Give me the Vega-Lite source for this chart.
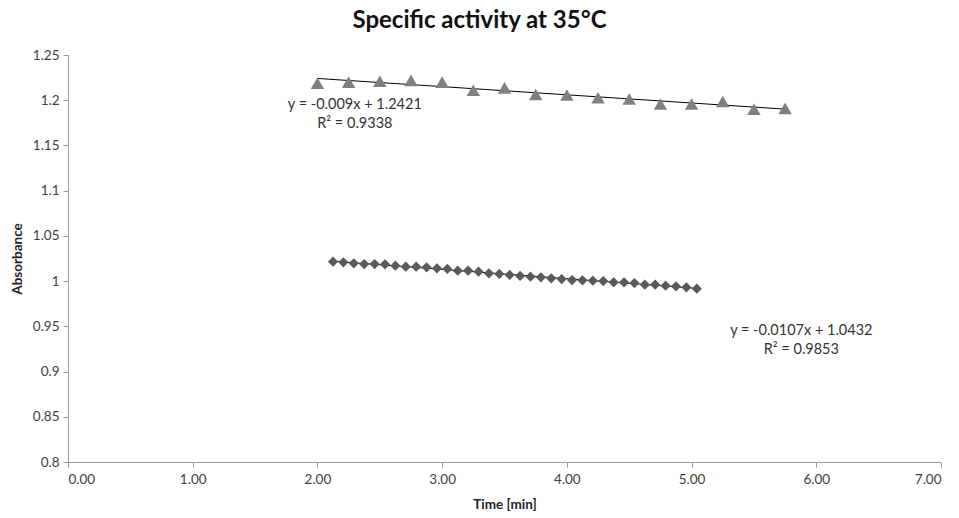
{
  "$schema": "https://vega.github.io/schema/vega-lite/v6.json",
  "autosize": "none",
  "width": 873,
  "height": 407,
  "padding": {"left": 68, "top": 55, "right": 18, "bottom": 56},
  "background": "white",
  "config": {
    "view": {"stroke": null},
    "font": "Lato",
    "axis": {"labelFont": "Lato", "titleFont": "Lato", "labelColor": "#404040", "titleColor": "#222222", "domainColor": "#9a9a9a", "tickColor": "#9a9a9a", "grid": false, "labelFontSize": 13.5, "titleFontSize": 13.5, "titleFontWeight": "bold", "tickSize": 5}
  },
  "title": {"text": "Specific activity at 35°C", "font": "Lato", "fontSize": 24, "fontWeight": "bold", "color": "#111111", "anchor": "middle", "dx": -25, "offset": 15},
  "datasets": {
    "points": [
      {"series": "tri", "time": 2.0, "absorbance": 1.2187},
      {"series": "tri", "time": 2.25, "absorbance": 1.2200},
      {"series": "tri", "time": 2.5, "absorbance": 1.2210},
      {"series": "tri", "time": 2.75, "absorbance": 1.2220},
      {"series": "tri", "time": 3.0, "absorbance": 1.2200},
      {"series": "tri", "time": 3.25, "absorbance": 1.2110},
      {"series": "tri", "time": 3.5, "absorbance": 1.2137},
      {"series": "tri", "time": 3.75, "absorbance": 1.2063},
      {"series": "tri", "time": 4.0, "absorbance": 1.2058},
      {"series": "tri", "time": 4.25, "absorbance": 1.2028},
      {"series": "tri", "time": 4.5, "absorbance": 1.2013},
      {"series": "tri", "time": 4.75, "absorbance": 1.1958},
      {"series": "tri", "time": 5.0, "absorbance": 1.1958},
      {"series": "tri", "time": 5.25, "absorbance": 1.1986},
      {"series": "tri", "time": 5.5, "absorbance": 1.1900},
      {"series": "tri", "time": 5.75, "absorbance": 1.1910},
      {"series": "dia", "time": 2.125, "absorbance": 1.0215},
      {"series": "dia", "time": 2.2083, "absorbance": 1.0208},
      {"series": "dia", "time": 2.2917, "absorbance": 1.0197},
      {"series": "dia", "time": 2.375, "absorbance": 1.0189},
      {"series": "dia", "time": 2.4583, "absorbance": 1.0189},
      {"series": "dia", "time": 2.5417, "absorbance": 1.0186},
      {"series": "dia", "time": 2.625, "absorbance": 1.0171},
      {"series": "dia", "time": 2.7083, "absorbance": 1.0160},
      {"series": "dia", "time": 2.7917, "absorbance": 1.0160},
      {"series": "dia", "time": 2.875, "absorbance": 1.0153},
      {"series": "dia", "time": 2.9583, "absorbance": 1.0142},
      {"series": "dia", "time": 3.0417, "absorbance": 1.0134},
      {"series": "dia", "time": 3.125, "absorbance": 1.0115},
      {"series": "dia", "time": 3.2083, "absorbance": 1.0115},
      {"series": "dia", "time": 3.2917, "absorbance": 1.0104},
      {"series": "dia", "time": 3.375, "absorbance": 1.0086},
      {"series": "dia", "time": 3.4583, "absorbance": 1.0079},
      {"series": "dia", "time": 3.5417, "absorbance": 1.0068},
      {"series": "dia", "time": 3.625, "absorbance": 1.0057},
      {"series": "dia", "time": 3.7083, "absorbance": 1.0049},
      {"series": "dia", "time": 3.7917, "absorbance": 1.0042},
      {"series": "dia", "time": 3.875, "absorbance": 1.0031},
      {"series": "dia", "time": 3.9583, "absorbance": 1.0023},
      {"series": "dia", "time": 4.0417, "absorbance": 1.0012},
      {"series": "dia", "time": 4.125, "absorbance": 1.0009},
      {"series": "dia", "time": 4.2083, "absorbance": 1.0005},
      {"series": "dia", "time": 4.2917, "absorbance": 1.0001},
      {"series": "dia", "time": 4.375, "absorbance": 0.9987},
      {"series": "dia", "time": 4.4583, "absorbance": 0.9987},
      {"series": "dia", "time": 4.5417, "absorbance": 0.9979},
      {"series": "dia", "time": 4.625, "absorbance": 0.9960},
      {"series": "dia", "time": 4.7083, "absorbance": 0.9960},
      {"series": "dia", "time": 4.7917, "absorbance": 0.9949},
      {"series": "dia", "time": 4.875, "absorbance": 0.9943},
      {"series": "dia", "time": 4.9583, "absorbance": 0.9932},
      {"series": "dia", "time": 5.0417, "absorbance": 0.9916}
    ],
    "labels": [
      {"series": "tri", "time": 2.30, "absorbance": 1.1947, "label": ["y = -0.009x + 1.2421", "R² = 0.9338"]},
      {"series": "dia", "time": 5.88, "absorbance": 0.9448, "label": ["y = -0.0107x + 1.0432", "R² = 0.9853"]}
    ]
  },
  "layer": [
    {
      "data": {"name": "points"},
      "transform": [{"regression": "absorbance", "on": "time", "groupby": ["series"], "method": "linear"}],
      "mark": {"type": "line", "color": "#000000", "strokeWidth": 1, "clip": true},
      "encoding": {
        "x": {"field": "time", "type": "quantitative", "scale": {"domain": [0, 7], "nice": false, "zero": false},
              "axis": {"title": "Time [min]", "values": [0, 1, 2, 3, 4, 5, 6, 7], "format": ".2f", "labelPadding": 5, "titlePadding": 12}},
        "y": {"field": "absorbance", "type": "quantitative", "scale": {"domain": [0.8, 1.25], "nice": false, "zero": false},
              "axis": {"title": "Absorbance", "values": [0.8, 0.85, 0.9, 0.95, 1, 1.05, 1.1, 1.15, 1.2, 1.25], "format": ".2~f", "labelPadding": 4, "titlePadding": 8}},
        "detail": {"field": "series", "type": "nominal"}
      }
    },
    {
      "data": {"name": "points"},
      "mark": {"type": "point", "filled": true, "opacity": 1, "strokeWidth": 0},
      "encoding": {
        "x": {"field": "time", "type": "quantitative"},
        "y": {"field": "absorbance", "type": "quantitative"},
        "shape": {"field": "series", "type": "nominal", "scale": {"domain": ["tri", "dia"], "range": ["triangle-up", "diamond"]}, "legend": null},
        "color": {"field": "series", "type": "nominal", "scale": {"domain": ["tri", "dia"], "range": ["#808080", "#5a5a5a"]}, "legend": null},
        "size": {"field": "series", "type": "nominal", "scale": {"domain": ["tri", "dia"], "range": [180, 105]}, "legend": null}
      }
    },
    {
      "data": {"name": "labels"},
      "mark": {"type": "text", "font": "Lato", "fontSize": 14.5, "color": "#333333", "align": "center", "baseline": "middle", "lineHeight": 19},
      "encoding": {
        "x": {"field": "time", "type": "quantitative"},
        "y": {"field": "absorbance", "type": "quantitative"},
        "text": {"field": "label"}
      }
    }
  ]
}
